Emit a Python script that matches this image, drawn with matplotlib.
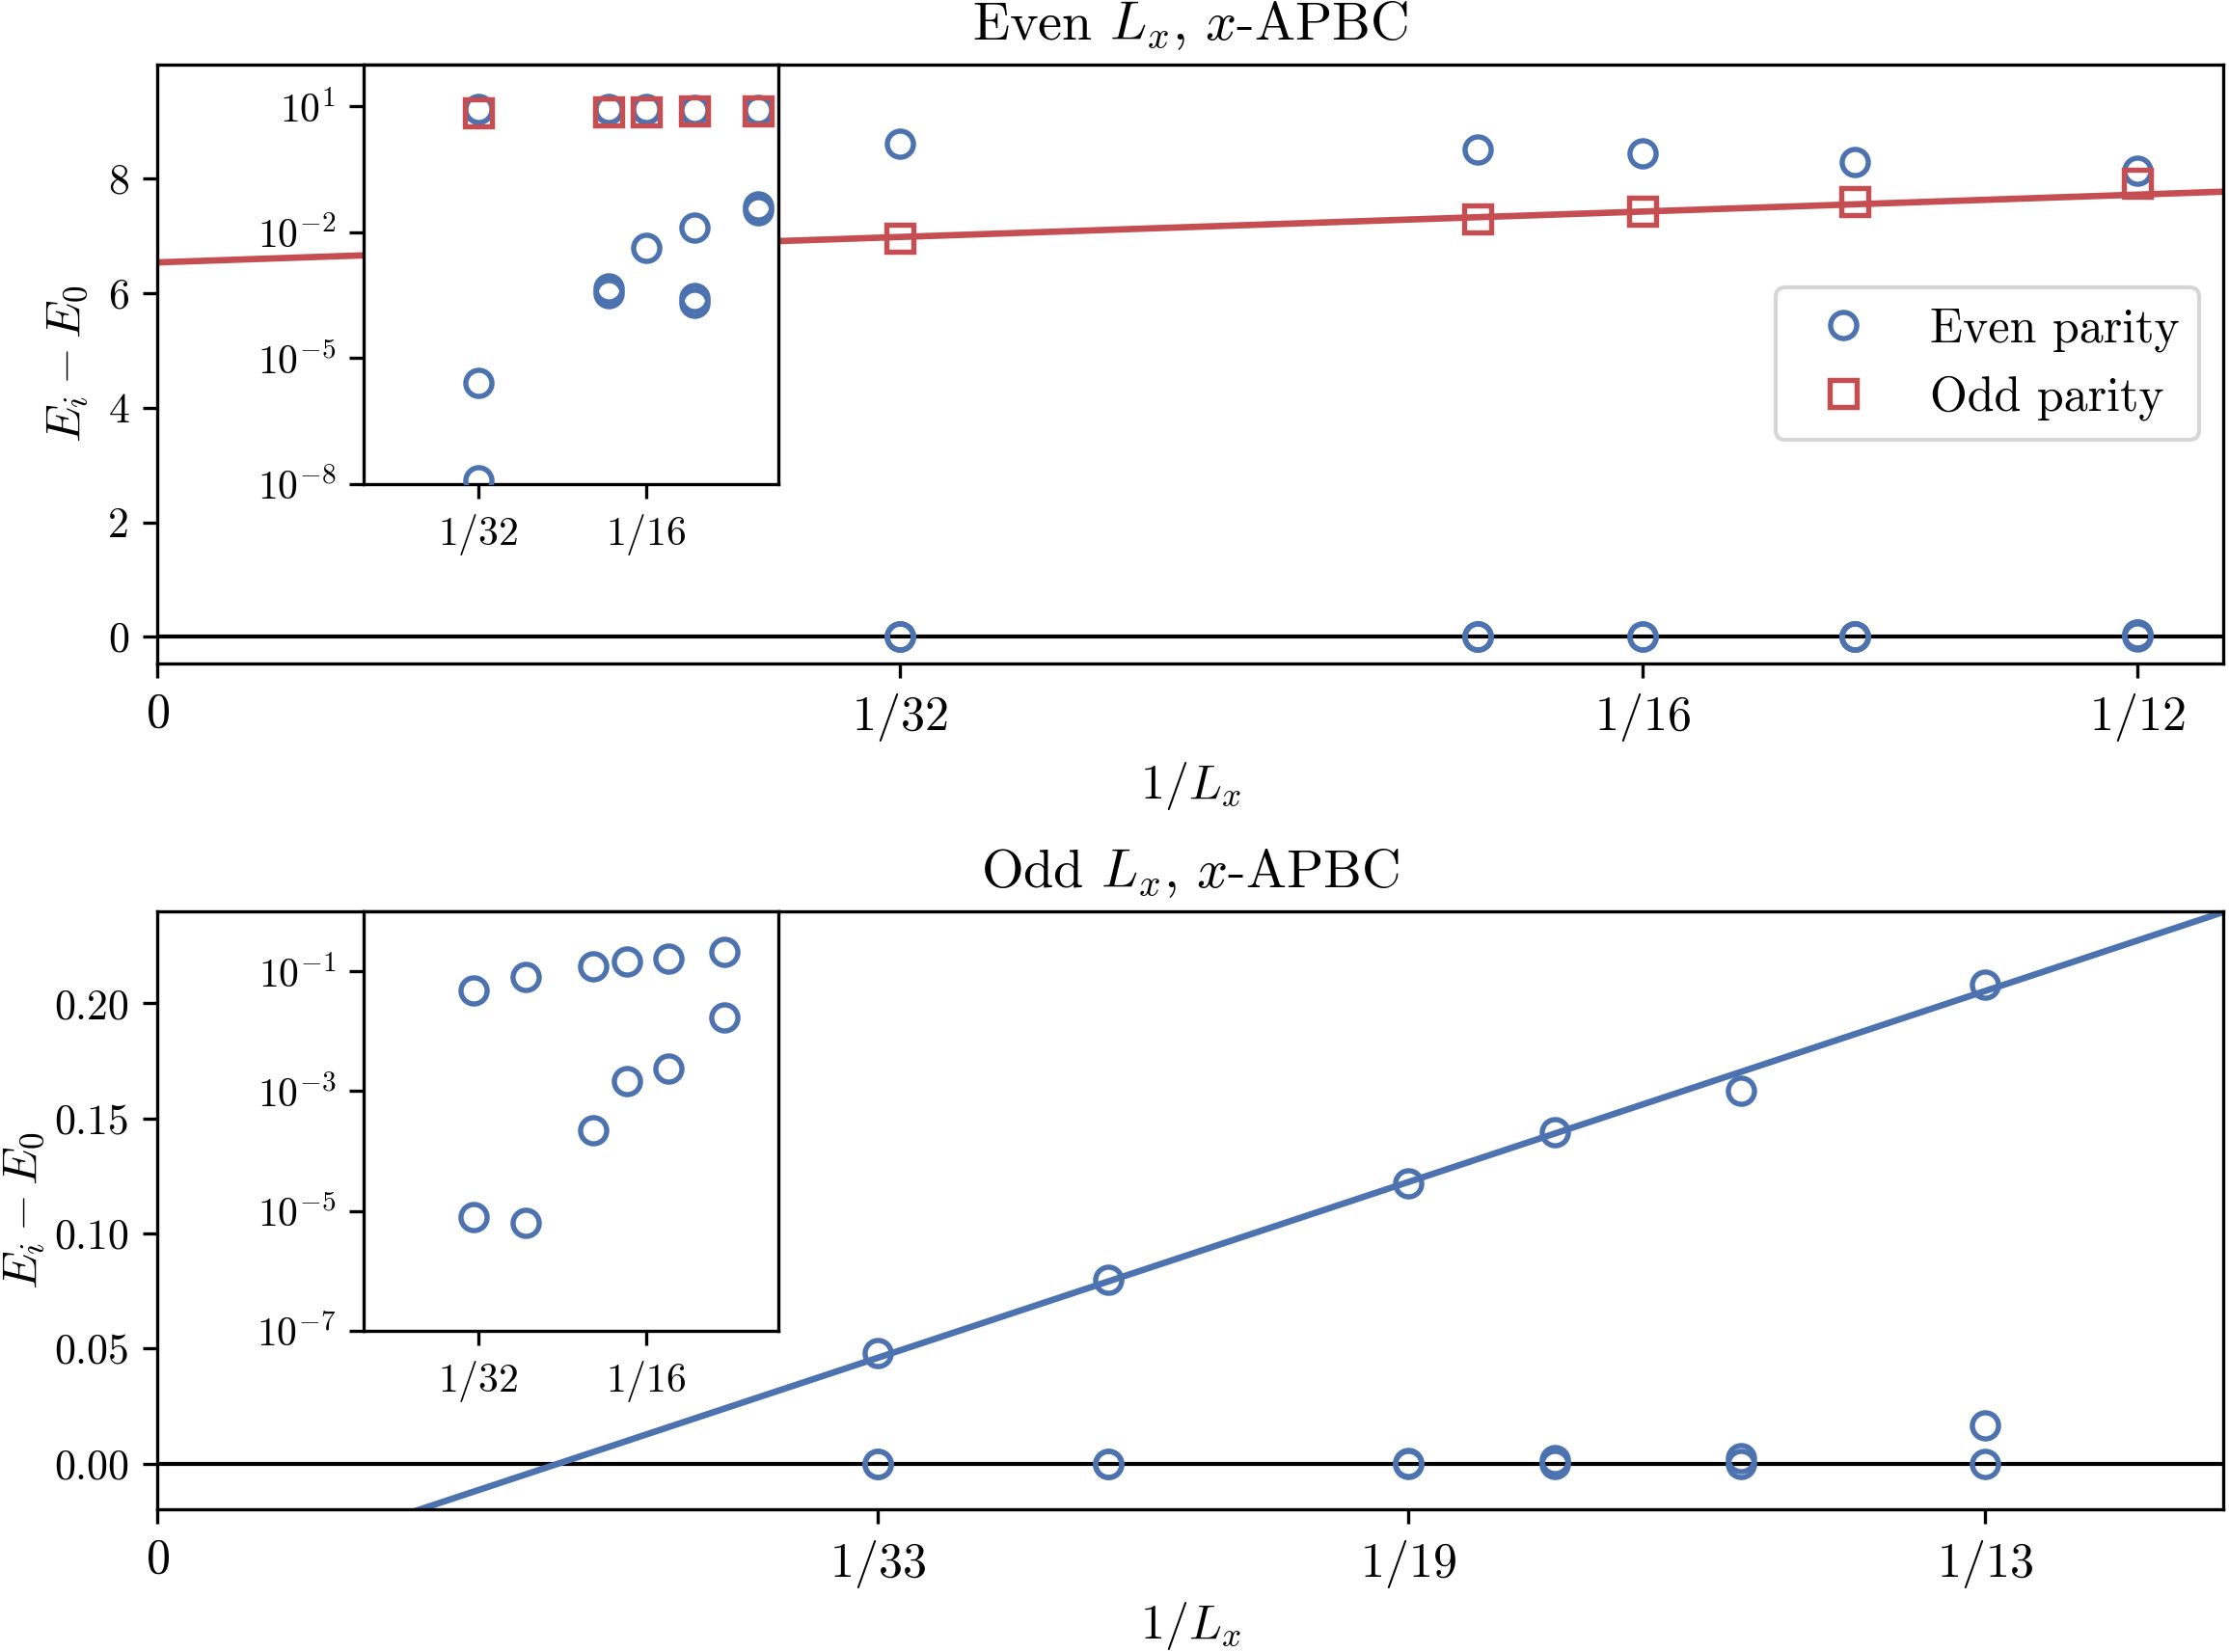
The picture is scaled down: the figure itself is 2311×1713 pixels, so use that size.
import numpy as np
import matplotlib
matplotlib.use("Agg")
import matplotlib.pyplot as plt
from matplotlib.ticker import FixedLocator, FixedFormatter, NullLocator, LogFormatterSciNotation

plt.rcParams['font.family'] = 'serif'
plt.rcParams['font.serif'] = ['cmr10']
plt.rcParams['mathtext.fontset'] = 'cm'
plt.rcParams['axes.formatter.use_mathtext'] = True
plt.rcParams['font.size'] = 12

BLUE = '#4C72B0'
RED = '#C44E52'

# ---------------- data: even Lx ----------------
even_L = [32, 18, 16, 14, 12]
# even-parity excitation energies E_i - E_0 (list per L, includes ground state 0)
even_parity = {
    32: [0.0, 1.2e-8, 2.6e-6, 8.61],
    18: [0.0, 3.5e-4, 4.6e-4, 8.51],
    16: [0.0, 4.3e-3, 8.44],
    14: [0.0, 2.1e-4, 2.7e-4, 0.0127, 8.29],
    12: [0.0, 0.034, 0.040, 8.14],
}
odd_parity_even_L = [6.96, 7.30, 7.43, 7.60, 7.92]
even_fit = (14.2, 6.54)  # slope, intercept of red extrapolation line

# ---------------- data: odd Lx ----------------
odd_L = [33, 25, 19, 17, 15, 13]
odd_low = [7.8e-6, 6.3e-6, 2.2e-4, 1.45e-3, 2.4e-3, 0.0167]
odd_high = [0.048, 0.080, 0.122, 0.144, 0.162, 0.208]
odd_fit = (3.42, -0.0577)

top_xticks = [0, 1/32, 1/16, 1/12]
top_xlabels = ['$0$', '$1/32$', '$1/16$', '$1/12$']
bot_xticks = [0, 1/33, 1/19, 1/13]
bot_xlabels = ['$0$', '$1/33$', '$1/19$', '$1/13$']
inset_xticks = [1/32, 1/16]
inset_xlabels = ['$1/32$', '$1/16$']
top_yticks = [0, 2, 4, 6, 8]
bot_yticks = [0, 0.05, 0.10, 0.15, 0.20]

XMAX = 1/11.5
mk = dict(ms=6.5, mew=1.3, mfc='none', ls='none')

fig = plt.figure(figsize=(2311/300, 1713/300), dpi=300)

# ================= top panel =================
ax1 = fig.add_axes([0.0707, 0.5982, 0.9267, 0.3629])
ex, ey = [], []
for L in even_L:
    for v in even_parity[L]:
        ex.append(1/L); ey.append(v)
xs = np.array([0, XMAX])
ax1.axhline(0, color='k', lw=1.0, zorder=1)
ax1.plot(xs, even_fit[0]*xs + even_fit[1], color=RED, lw=1.6, zorder=2)
ax1.plot(ex, ey, marker='o', color=BLUE, mec=BLUE, label='Even parity', zorder=3, **mk)
ax1.plot([1/L for L in even_L], odd_parity_even_L, marker='s', color=RED, mec=RED,
         label='Odd parity', zorder=3, **mk)
ax1.set_xlim(0, XMAX)
ax1.set_ylim(-0.47, 10.0)
ax1.xaxis.set_major_locator(FixedLocator(top_xticks))
ax1.xaxis.set_major_formatter(FixedFormatter(top_xlabels))
ax1.yaxis.set_major_locator(FixedLocator(top_yticks))
ax1.yaxis.set_major_formatter(FixedFormatter([str(v) for v in top_yticks]))
ax1.tick_params(axis='y', labelsize=10.5)
ax1.set_xlabel('$1/L_x$')
ax1.set_ylabel('$E_i - E_0$')
ax1.yaxis.set_label_coords(-0.033, 0.5)
ax1.set_title('Even $L_x$, $x$-APBC', fontsize=13.5)
ax1.legend(loc='center right', fontsize=12)

ins1 = fig.add_axes([0.1633, 0.7071, 0.1858, 0.2540])
ins1.plot([x for x, y in zip(ex, ey) if y > 0], [y for y in ey if y > 0],
          marker='o', color=BLUE, mec=BLUE, zorder=3, **mk)
ins1.plot([1/L for L in even_L], odd_parity_even_L, marker='s', color=RED, mec=RED, zorder=3, **mk)
ins1.set_yscale('log')
ins1.set_xlim(0.010, 0.087)
ins1.set_ylim(1e-8, 1e2)
ins1.xaxis.set_major_locator(FixedLocator(inset_xticks))
ins1.xaxis.set_major_formatter(FixedFormatter(inset_xlabels))
ins1.yaxis.set_major_locator(FixedLocator([1e1, 1e-2, 1e-5, 1e-8]))
ins1.yaxis.set_major_formatter(LogFormatterSciNotation())
ins1.yaxis.set_minor_locator(NullLocator())
ins1.tick_params(labelsize=10)

# ================= bottom panel =================
ax2 = fig.add_axes([0.0707, 0.0862, 0.9267, 0.3621])
xo = [1/L for L in odd_L]
ax2.axhline(0, color='k', lw=1.0, zorder=1)
ax2.plot(xs, odd_fit[0]*xs + odd_fit[1], color=BLUE, lw=1.6, zorder=2)
ax2.plot(xo + xo + xo, [0.0]*len(xo) + odd_low + odd_high, marker='o', color=BLUE, mec=BLUE,
         zorder=3, **mk)
ax2.set_xlim(0, XMAX)
ax2.set_ylim(-0.02, 0.24)
ax2.xaxis.set_major_locator(FixedLocator(bot_xticks))
ax2.xaxis.set_major_formatter(FixedFormatter(bot_xlabels))
ax2.yaxis.set_major_locator(FixedLocator(bot_yticks))
ax2.yaxis.set_major_formatter(FixedFormatter([f'{v:.2f}' for v in bot_yticks]))
ax2.tick_params(axis='y', labelsize=10.5)
ax2.set_xlabel('$1/L_x$', labelpad=2.5)
ax2.set_ylabel('$E_i - E_0$')
ax2.yaxis.set_label_coords(-0.054, 0.5)
ax2.set_title('Odd $L_x$, $x$-APBC', fontsize=13.5)

ins2 = fig.add_axes([0.1633, 0.1944, 0.1858, 0.2539])
ins2.plot(xo + xo, odd_low + odd_high, marker='o', color=BLUE, mec=BLUE, zorder=3, **mk)
ins2.set_yscale('log')
ins2.set_xlim(0.010, 0.087)
ins2.set_ylim(1e-7, 1e0)
ins2.xaxis.set_major_locator(FixedLocator(inset_xticks))
ins2.xaxis.set_major_formatter(FixedFormatter(inset_xlabels))
ins2.yaxis.set_major_locator(FixedLocator([1e-1, 1e-3, 1e-5, 1e-7]))
ins2.yaxis.set_major_formatter(LogFormatterSciNotation())
ins2.yaxis.set_minor_locator(NullLocator())
ins2.tick_params(labelsize=10)

fig.savefig('out.png', dpi=300)
